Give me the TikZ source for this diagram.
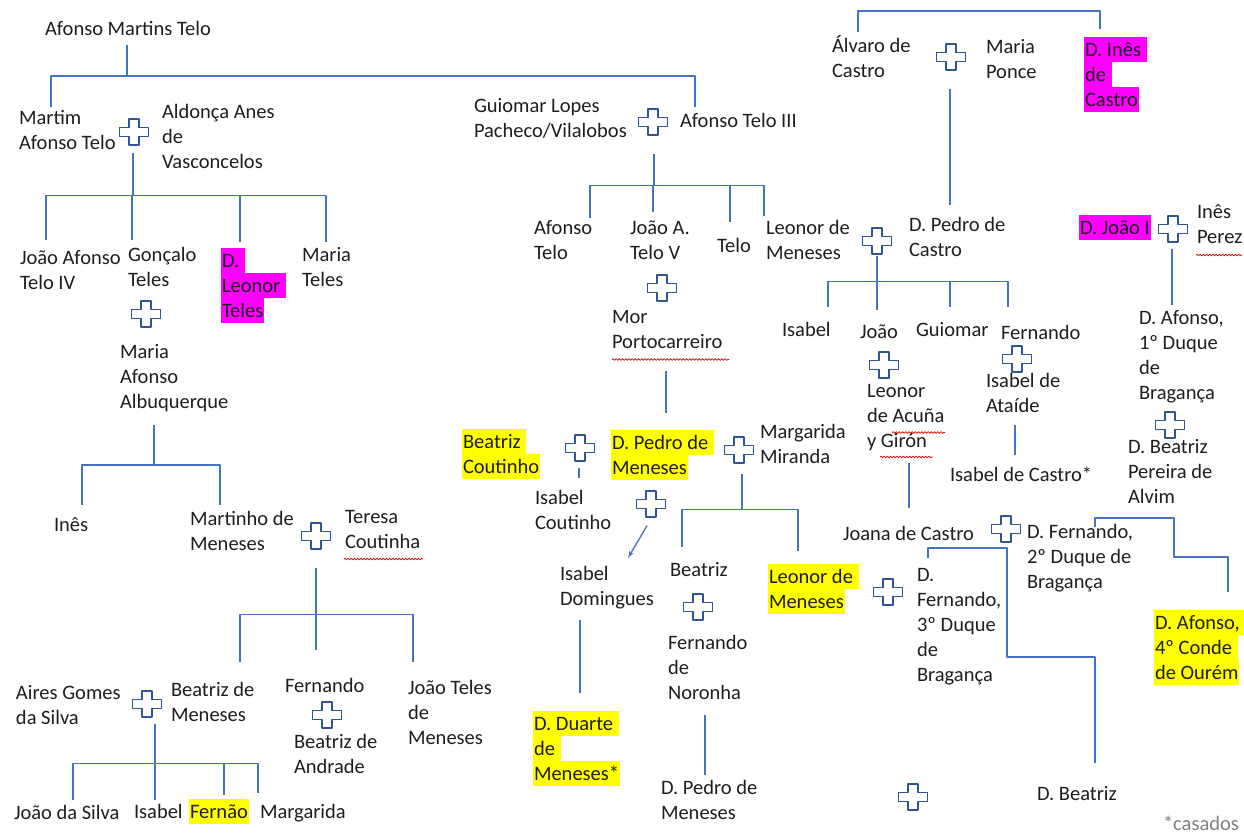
\documentclass[tikz,border=0pt]{standalone}
\usepackage{fontspec}
\setmainfont{Carlito}
\usetikzlibrary{arrows}
\usetikzlibrary{decorations.pathmorphing}

\definecolor{linecol}{HTML}{4472C4}
\definecolor{pluscol}{HTML}{2F5597}
\definecolor{hlmag}{HTML}{FF00FF}
\definecolor{hlyel}{HTML}{FFFF00}
\definecolor{textcol}{HTML}{1E1E1E}

% line strut and highlighted lines (magenta, yellow)
\newcommand\lnstrut{\vrule width0pt height19.5pt depth5.5pt}
\newcommand\hlm[1]{{\fboxsep=0pt\colorbox{hlmag}{\lnstrut\kern1pt#1\kern1pt}}}
\newcommand\hly[1]{{\fboxsep=0pt\colorbox{hlyel}{\lnstrut\kern1pt#1\kern1pt}}}

\tikzset{
  pers/.style={anchor=north west, inner sep=0pt, outer sep=0pt, align=left,
    text=textcol, font=\fontsize{20.5}{25}\selectfont, execute at begin node=\lnstrut},
  wed/.style={minimum width=32pt, minimum height=29pt, inner sep=0pt,
    path picture={\draw[pluscol, line width=1.2pt]
      ([shift={(-5,-13)}]path picture bounding box.center) -- ++(10,0) -- ++(0,8.5)
      -- ++(9.5,0) -- ++(0,9) -- ++(-9.5,0) -- ++(0,8.5) -- ++(-10,0) -- ++(0,-8.5)
      -- ++(-9.5,0) -- ++(0,-9) -- ++(9.5,0) -- cycle;}},
  tie/.style={draw=linecol, line width=1.3pt},
  spell/.style={draw=red!85!black, line width=0.7pt, decorate,
    decoration={snake, amplitude=0.9pt, segment length=3.2pt}},
}

\begin{document}
\begin{tikzpicture}[x=1pt,y=1pt,>=latex',line join=bevel]
    \fill[white] (0,0) rectangle (1244,-834);
    \useasboundingbox (0,0) rectangle (1244,-834);
    %%
    % Node: Telo, first generations
    \node[pers] (amt) at (45,-16.5) {Afonso Martins Telo};
    \node[pers] (mat) at (19,-110.5) {Martim\\Afonso Telo};
    \node[wed] (x1) at (134,-132) {};
    \node[pers] (aav) at (162,-104.5) {Aldonça Anes\\de\\Vasconcelos};
    \node[pers] (gcl) at (474,-98.5) {Guiomar Lopes\\Pacheco/Vilalobos};
    \node[wed] (x2) at (653,-122) {};
    \node[pers] (at3) at (680,-108.5) {Afonso Telo III};
    % Node: Castro
    \node[pers] (alv) at (832,-35.5) {Álvaro de\\Castro};
    \node[wed] (x3) at (951,-57) {};
    \node[pers] (mpo) at (986,-39.5) {Maria\\Ponce};
    \node[pers] (ines) at (1084,-37.5) {\hlm{D. Inês\ }\\\hlm{de\ }\\\hlm{Castro}};
    % Node: left branch
    \node[pers] (jat4) at (20,-250.5) {João Afonso\\Telo IV};
    \node[pers] (gon) at (128,-247.5) {Gonçalo\\Teles};
    \node[pers] (leo) at (221,-247.5) {\hlm{D.\ }\\\hlm{Leonor\ }\\\hlm{Teles}};
    \node[pers] (mte) at (302,-247.5) {Maria\\Teles};
    \node[wed] (x4) at (146,-314) {};
    \node[pers] (maa) at (120,-344.5) {Maria\\Afonso\\Albuquerque};
    \node[pers] (inesm) at (54,-511.5) {Inês};
    \node[pers] (mmen) at (190,-511.5) {Martinho de\\Meneses};
    \node[wed] (x5) at (316,-536) {};
    \node[pers] (tco) at (345,-510.5) {Teresa\\Coutinha};
    \node[pers] (ags) at (16,-685.5) {Aires Gomes\\da Silva};
    \node[wed] (x7) at (147,-704) {};
    \node[pers] (bmen) at (171,-682.5) {Beatriz de\\Meneses};
    \node[pers] (fer) at (285,-672.5) {Fernando};
    \node[wed] (x6) at (327,-715) {};
    \node[pers] (band) at (294,-734.5) {Beatriz de\\Andrade};
    \node[pers] (jtm) at (408,-680.5) {João Teles\\de\\Meneses};
    \node[pers] (jds) at (14,-799.5) {João da Silva};
    \node[pers] (isa) at (134,-798.5) {Isabel};
    \node[pers] (fernao) at (189,-798.5) {\hly{Fernão}};
    \node[pers] (marg) at (260,-798.5) {Margarida};
    % Node: middle branch
    \node[pers] (aft) at (534,-220.5) {Afonso\\Telo};
    \node[pers] (jat5) at (630,-220.5) {João A.\\Telo V};
    \node[pers] (telo) at (717,-233.5) {Telo};
    \node[pers] (lme) at (766,-220.5) {Leonor de\\Meneses};
    \node[wed] (x8) at (662,-288) {};
    \node[pers] (mor) at (612,-310.5) {Mor\\Portocarreiro};
    \node[pers] (bco) at (462,-428.5) {\hly{Beatriz\ }\\\hly{Coutinho}};
    \node[wed] (x14) at (580,-448) {};
    \node[pers] (pdm) at (611,-429.5) {\hly{D. Pedro de\ }\\\hly{Meneses}};
    \node[wed] (x15) at (739,-450) {};
    \node[pers] (mmi) at (760,-424.5) {Margarida\\Miranda};
    \node[pers] (ico) at (535,-490.5) {Isabel\\Coutinho};
    \node[wed] (x16) at (651,-504) {};
    \node[pers] (ido) at (560,-566.5) {Isabel\\Domingues};
    \node[pers] (bea) at (670,-556.5) {Beatriz};
    \node[pers] (lme2) at (768,-563.5) {\hly{Leonor de\ }\\\hly{Meneses}};
    \node[wed] (x17) at (698,-607) {};
    \node[pers] (fno) at (668,-635.5) {Fernando\\de\\Noronha};
    \node[pers] (ddm) at (533,-710.5) {\hly{D. Duarte\ }\\\hly{de\ }\\\hly{Meneses*}};
    \node[pers] (pdm2) at (661,-780.5) {D. Pedro de\\Meneses};
    % Node: right branch
    \node[wed] (x9) at (877,-241) {};
    \node[pers] (pdc) at (909,-217.5) {D. Pedro de\\Castro};
    \node[pers] (isc) at (782,-316.5) {Isabel};
    \node[pers] (joao) at (860,-318.5) {João};
    \node[pers] (gui) at (916,-316.5) {Guiomar};
    \node[pers] (fern) at (1001,-319.5) {Fernando};
    \node[wed] (x10) at (884,-365) {};
    \node[pers] (lag) at (867,-384.5) {Leonor\\de Acuña\\y Girón};
    \node[wed] (x11) at (1017,-359) {};
    \node[pers] (iat) at (986,-373.5) {Isabel de\\Ataíde};
    \node[pers] (idc) at (950,-461.5) {Isabel de Castro*};
    \node[pers] (dj1) at (1079,-215.5) {\hlm{D. João I}};
    \node[wed] (x12) at (1173,-229) {};
    \node[pers] (ipe) at (1197,-204.5) {Inês\\Perez};
    \node[pers] (daf1) at (1139,-310.5) {D. Afonso,\\1º Duque\\de\\Bragança};
    \node[wed] (x13) at (1170,-425) {};
    \node[pers] (dbp) at (1128,-439.5) {D. Beatriz\\Pereira de\\Alvim};
    \node[pers] (jca) at (843,-520.5) {Joana de Castro};
    \node[wed] (x18) at (1006,-529) {};
    \node[pers] (df2) at (1027,-524.5) {D. Fernando,\\2º Duque de\\Bragança};
    \node[wed] (x19) at (888,-592) {};
    \node[pers] (df3) at (917,-568.5) {D.\\Fernando,\\3º Duque\\de\\Bragança};
    \node[pers] (daf4) at (1154,-609.5) {\hly{D. Afonso,\ }\\\hly{4º Conde\ }\\\hly{de Ourém}};
    \node[pers] (dbe) at (1037,-780.5) {D. Beatriz};
    \node[wed] (x20) at (913,-797) {};
    \node[pers, text=black!50] (cas) at (1163,-810.5) {*casados};
    %
    % Edge: amt -> mat, at3
    \draw[tie] ([shift={(82,-28.5)}]amt.north west) -- ++(0,-31) coordinate (b0);
    \draw[tie] (b0) -| ([shift={(32,3.5)}]mat.north west);
    \draw[tie] (b0) -| ([shift={(15,1.5)}]at3.north west);
    % Edge: x1 -> jat4, gon, leo, mte
    \draw[tie] ([shift={(-1,-6)}]x1.south) -- ++(0,-43) coordinate (b1);
    \draw[tie] (b1) -| ([shift={(26,10.5)}]jat4.north west);
    \draw[tie] (b1) -| ([shift={(4,7.5)}]gon.north west);
    \draw[tie] (b1) -| ([shift={(19,5.5)}]leo.north west);
    \draw[tie] (b1) -| ([shift={(24,5.5)}]mte.north west);
    % Edge: maa -> inesm, mmen
    \draw[tie] ([shift={(34,-80.5)}]maa.north west) -- ++(0,-40) coordinate (b2);
    \draw[tie] (b2) -| ([shift={(28,6.5)}]inesm.north west);
    \draw[tie] (b2) -| ([shift={(30,6.5)}]mmen.north west);
    % Edge: x5 -> bmen, fer, jtm
    \draw[tie] ([yshift=-17pt]x5.south) -- ++(0,-47) coordinate (b3);
    \draw[tie] (b3) -| ([shift={(69,20.5)}]bmen.north west);
    \draw[tie] (b3) -| ([shift={(31,22.5)}]fer.north west);
    \draw[tie] (b3) -| ([shift={(5,18.5)}]jtm.north west);
    % Edge: x7 -> jds, isa, fernao, marg
    \draw[tie] ([shift={(8,-5)}]x7.south) -- ++(0,-40) coordinate (b4);
    \draw[tie] (b4) -| ([shift={(59,-0.5)}]jds.north west);
    \draw[tie] (b4) -| ([shift={(21,-1.5)}]isa.north west);
    \draw[tie] (b4) -| ([shift={(35,3.5)}]fernao.north west);
    \draw[tie] (b4) -| ([shift={(-2,5.5)}]marg.north west);
    % Edge: x2 -> aft, jat5, telo, lme
    \draw[tie] ([shift={(1,-17)}]x2.south) -- ++(0,-32) coordinate (b5);
    \draw[tie] (b5) -| ([shift={(56,2.5)}]aft.north west);
    \draw[tie] (b5) -| ([shift={(23,8.5)}]jat5.north west);
    \draw[tie] (b5) -| ([shift={(13,11.5)}]telo.north west);
    \draw[tie] (b5) -| ([shift={(-2,4.5)}]lme.north west);
    % Edge: alv -> ines, x3 -> pdc
    \draw[tie] ([shift={(26,3.5)}]alv.north west) -- ++(0,21) -| ([shift={(16,8.5)}]ines.north west);
    \draw[tie] ([shift={(-1,-17)}]x3.south) -- ([shift={(41,12.5)}]pdc.north west);
    % Edge: x9 -> isc, joao, gui, fern
    \draw[tie] (x9.south) -- ++(0,-26) coordinate (b7);
    \draw[tie] (b7) -| ([shift={(46,9.5)}]isc.north west);
    \draw[tie] (b7) -| ([shift={(17,8.5)}]joao.north west);
    \draw[tie] (b7) -| ([shift={(34,9.5)}]gui.north west);
    \draw[tie] (b7) -| ([shift={(7,12.5)}]fern.north west);
    % Edge: x12 -> daf1
    \draw[tie] ([shift={(-1,-5)}]x12.south) -- ([shift={(33,5.5)}]daf1.north west);
    % Edge: lag -> jca, iat -> idc
    \draw[tie] ([shift={(42,-78.5)}]lag.north west) -- ([shift={(66,12.5)}]jca.north west);
    \draw[tie] ([shift={(29,-51.5)}]iat.north west) -- ([shift={(65,6.5)}]idc.north west);
    % Edge: mor -> pdm
    \draw[tie] ([shift={(54,-60.5)}]mor.north west) -- ([shift={(55,16.5)}]pdm.north west);
    % Edge: x14 -> ico, x16 -> ido
    \draw[tie] ([shift={(-1,-5)}]x14.south) -- ([shift={(44,12.5)}]ico.north west);
    \draw[tie,->] ([shift={(-4,-7)}]x16.south) -- ([shift={(68,8.5)}]ido.north west);
    % Edge: x15 -> bea, lme2
    \draw[tie] ([shift={(3,-9)}]x15.south) -- ++(0,-36) coordinate (b14);
    \draw[tie] (b14) -| ([shift={(12,9.5)}]bea.north west);
    \draw[tie] (b14) -| ([shift={(30,12.5)}]lme2.north west);
    % Edge: ido -> ddm, fno -> pdm2
    \draw[tie] ([shift={(20,-53.5)}]ido.north west) -- ([shift={(47,17.5)}]ddm.north west);
    \draw[tie] ([shift={(37,-79.5)}]fno.north west) -- ([shift={(44,5.5)}]pdm2.north west);
    % Edge: df2 -> daf4, df3 -> dbe
    \draw[tie] ([shift={(68,-2.5)}]df2.north west) -- ++(0,9) -| ++(79,-39) -| ([shift={(74,17.5)}]daf4.north west);
    \draw[tie] ([shift={(11,10.5)}]df3.north west) -- ++(0,10) -| ++(79,-109) -| ([shift={(58,17.5)}]dbe.north west);
    %
    % spelling marks
    \draw[spell] ([shift={(-1,-48.5)}]tco.north west) -- ++(79,0);
    \draw[spell] ([shift={(0,-49)}]mor.north west) -- ++(117,0);
    \draw[spell] ([shift={(-1,-50.5)}]ipe.north west) -- ++(46,0);
    \draw[spell] ([shift={(25,-48)}]lag.north west) -- ++(53,0);
    \draw[spell] ([shift={(13,-72.5)}]lag.north west) -- ++(53,0);
\end{tikzpicture}
\end{document}
